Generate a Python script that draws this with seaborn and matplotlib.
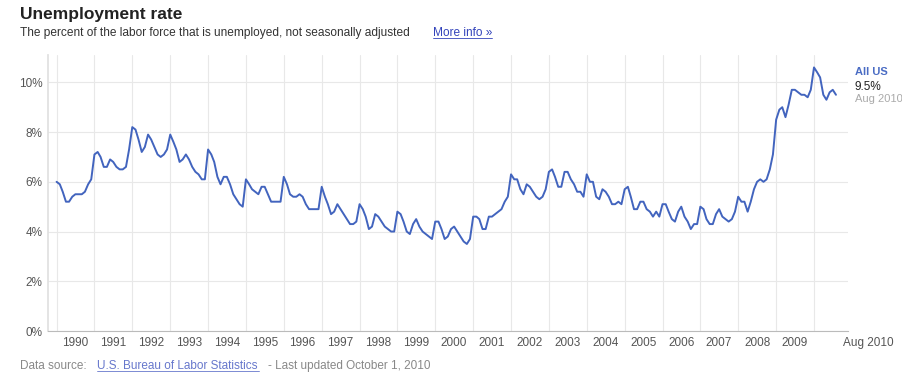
import numpy as np
import pandas as pd
import matplotlib
matplotlib.use("Agg")
import matplotlib.pyplot as plt
import matplotlib.dates as mdates
import seaborn as sns

# Monthly unemployment rate (%), not seasonally adjusted, Jan 1990 - Aug 2010
rate_1990 = [6.0, 5.9, 5.6, 5.2, 5.2, 5.4, 5.5, 5.5, 5.5, 5.6, 5.9, 6.1]
rate_1991 = [7.1, 7.2, 7.0, 6.6, 6.6, 6.9, 6.8, 6.6, 6.5, 6.5, 6.6, 7.3]
rate_1992 = [8.2, 8.1, 7.7, 7.2, 7.4, 7.9, 7.7, 7.4, 7.1, 7.0, 7.1, 7.3]
rate_1993 = [7.9, 7.6, 7.3, 6.8, 6.9, 7.1, 6.9, 6.6, 6.4, 6.3, 6.1, 6.1]
rate_1994 = [7.3, 7.1, 6.8, 6.2, 5.9, 6.2, 6.2, 5.9, 5.5, 5.3, 5.1, 5.0]
rate_1995 = [6.1, 5.9, 5.7, 5.6, 5.5, 5.8, 5.8, 5.5, 5.2, 5.2, 5.2, 5.2]
rate_1996 = [6.2, 5.9, 5.5, 5.4, 5.4, 5.5, 5.4, 5.1, 4.9, 4.9, 4.9, 4.9]
rate_1997 = [5.8, 5.4, 5.1, 4.7, 4.8, 5.1, 4.9, 4.7, 4.5, 4.3, 4.3, 4.4]
rate_1998 = [5.1, 4.9, 4.6, 4.1, 4.2, 4.7, 4.6, 4.4, 4.2, 4.1, 4.0, 4.0]
rate_1999 = [4.8, 4.7, 4.4, 4.0, 3.9, 4.3, 4.5, 4.2, 4.0, 3.9, 3.8, 3.7]
rate_2000 = [4.4, 4.4, 4.1, 3.7, 3.8, 4.1, 4.2, 4.0, 3.8, 3.6, 3.5, 3.7]
rate_2001 = [4.6, 4.6, 4.5, 4.1, 4.1, 4.6, 4.6, 4.7, 4.8, 4.9, 5.2, 5.4]
rate_2002 = [6.3, 6.1, 6.1, 5.7, 5.5, 5.9, 5.8, 5.6, 5.4, 5.3, 5.4, 5.7]
rate_2003 = [6.4, 6.5, 6.2, 5.8, 5.8, 6.4, 6.4, 6.1, 5.9, 5.6, 5.6, 5.4]
rate_2004 = [6.3, 6.0, 6.0, 5.4, 5.3, 5.7, 5.6, 5.4, 5.1, 5.1, 5.2, 5.1]
rate_2005 = [5.7, 5.8, 5.4, 4.9, 4.9, 5.2, 5.2, 4.9, 4.8, 4.6, 4.8, 4.6]
rate_2006 = [5.1, 5.1, 4.8, 4.5, 4.4, 4.8, 5.0, 4.6, 4.4, 4.1, 4.3, 4.3]
rate_2007 = [5.0, 4.9, 4.5, 4.3, 4.3, 4.7, 4.9, 4.6, 4.5, 4.4, 4.5, 4.8]
rate_2008 = [5.4, 5.2, 5.2, 4.8, 5.2, 5.7, 6.0, 6.1, 6.0, 6.1, 6.5, 7.1]
rate_2009 = [8.5, 8.9, 9.0, 8.6, 9.1, 9.7, 9.7, 9.6, 9.5, 9.5, 9.4, 9.7]
rate_2010 = [10.6, 10.4, 10.2, 9.5, 9.3, 9.6, 9.7, 9.5]

year_labels = [str(y) for y in range(1990, 2010)]
y_ticks = [0, 2, 4, 6, 8, 10]
y_tick_labels = ["0%", "2%", "4%", "6%", "8%", "10%"]

rates = (rate_1990 + rate_1991 + rate_1992 + rate_1993 + rate_1994 + rate_1995 +
         rate_1996 + rate_1997 + rate_1998 + rate_1999 + rate_2000 + rate_2001 +
         rate_2002 + rate_2003 + rate_2004 + rate_2005 + rate_2006 + rate_2007 +
         rate_2008 + rate_2009 + rate_2010)
dates = pd.date_range("1990-01-01", periods=len(rates), freq="MS")
df = pd.DataFrame({"date": dates, "rate": rates})

sns.set_theme(style="white")
plt.rcParams["font.family"] = ["Liberation Sans", "DejaVu Sans"]

W, H = 903, 378
fig = plt.figure(figsize=(W / 100, H / 100), dpi=100)
fig.patch.set_facecolor("white")
ax = fig.add_axes([48 / W, 1 - 331 / H, (848 - 48) / W, (331 - 55) / H])

line_color = "#4264be"
sns.lineplot(data=df, x="date", y="rate", ax=ax, color=line_color, linewidth=1.4)

ax.set_ylim(0, 11.1)
ax.set_xlim(pd.Timestamp("1989-10-10"), pd.Timestamp("2010-11-25"))

ax.set_yticks(y_ticks)
ax.set_yticklabels(y_tick_labels)
ax.xaxis.set_major_locator(mdates.YearLocator(1, month=1, day=1))
ax.xaxis.set_major_formatter(plt.NullFormatter())
ax.set_xticks([pd.Timestamp(f"{y}-07-01") for y in range(1990, 2010)], minor=True)
ax.set_xticklabels(year_labels, minor=True)
ax.grid(True, which="major", axis="both", color="#e8e8e8", linewidth=0.8)
ax.tick_params(axis="x", which="minor", length=0, labelsize=8.5, colors="#555555", pad=4)
ax.tick_params(axis="x", which="major", length=4, color="#dddddd", direction="out")
ax.tick_params(axis="y", length=0, labelsize=8.5, colors="#555555", pad=4)
ax.set_xlabel("")
ax.set_ylabel("")
for s in ["top", "right"]:
    ax.spines[s].set_visible(False)
ax.spines["left"].set_color("#e0e0e0")
ax.spines["bottom"].set_color("#bbbbbb")
ax.spines["bottom"].set_linewidth(0.8)

def px(x, y):
    return x / W, 1 - y / H

fig.text(*px(843, 343), "Aug 2010", fontsize=8.5, color="#555555", ha="left", va="center")

# Title and subtitle
fig.text(*px(20, 15), "Unemployment rate", fontsize=12.5, fontweight="bold", color="#222222", va="center")
sub = "The percent of the labor force that is unemployed, not seasonally adjusted"
fig.text(*px(20, 33), sub, fontsize=8.6, color="#333333", va="center")
fig.text(*px(433, 33), "More info \u00bb", fontsize=8.6, color="#3344bb", va="center")
fig.lines.append(plt.Line2D([433 / W, 492 / W], [1 - 38 / H, 1 - 38 / H], color="#3344bb",
                            linewidth=0.6, transform=fig.transFigure))

# Right side labels
fig.text(*px(855, 72), "All US", fontsize=8, fontweight="bold", color="#4a6cc4", va="center")
fig.text(*px(855, 87), "9.5%", fontsize=8.5, color="#222222", va="center")
fig.text(*px(855, 99), "Aug 2010", fontsize=8, color="#aaaaaa", va="center")

# Data source footer
fig.text(*px(20, 366), "Data source:", fontsize=8.5, color="#888888", va="center")
fig.text(*px(97, 366), "U.S. Bureau of Labor Statistics", fontsize=8.5, color="#6677cc", va="center")
fig.lines.append(plt.Line2D([97 / W, 259 / W], [1 - 371 / H, 1 - 371 / H], color="#6677cc",
                            linewidth=0.6, transform=fig.transFigure))
fig.text(*px(268, 366), "- Last updated October 1, 2010", fontsize=8.5, color="#888888", va="center")

fig.savefig("out.png", dpi=100, facecolor="white")
